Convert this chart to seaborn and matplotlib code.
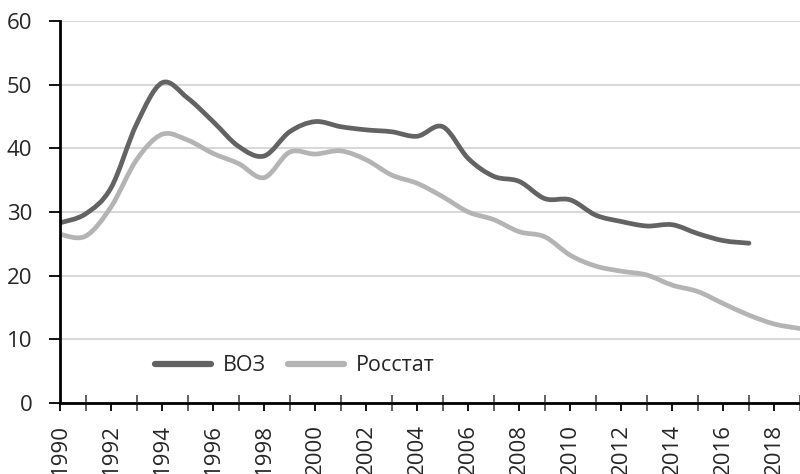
import matplotlib
matplotlib.use("Agg")
import matplotlib.pyplot as plt
import seaborn as sns
import pandas as pd
import numpy as np
from matplotlib.ticker import MultipleLocator
from matplotlib.path import Path
from matplotlib.patches import PathPatch

years_who = list(range(1990, 2018))
who = [28.3, 29.7, 33.8, 43.8, 50.3, 47.9, 44.2, 40.3, 38.8, 42.6, 44.2, 43.4,
       42.9, 42.6, 41.9, 43.4, 38.4, 35.6, 34.8, 32.1, 31.9, 29.5, 28.5, 27.8,
       28.0, 26.6, 25.5, 25.1]
years_rs = list(range(1990, 2020))
rosstat = [26.5, 26.2, 30.8, 38.2, 42.2, 41.3, 39.2, 37.6, 35.4, 39.4, 39.1, 39.6,
           38.2, 35.8, 34.5, 32.4, 30.0, 28.8, 26.9, 26.1, 23.2, 21.5, 20.7, 20.1,
           18.5, 17.5, 15.6, 13.8, 12.4, 11.7]
label_who = "ВОЗ"
label_rs = "Росстат"

df = pd.concat([
    pd.DataFrame({"year": years_who, "value": who, "series": label_who}),
    pd.DataFrame({"year": years_rs, "value": rosstat, "series": label_rs}),
])

sns.set_theme(style="white")
plt.rcParams["font.family"] = ["Open Sans", "DejaVu Sans"]

fig = plt.figure(figsize=(8, 4.74), dpi=100)
ax = fig.add_axes([60/800, 1-403/474, 740/800, 382/474])

sns.lineplot(data=df, x="year", y="value", hue="series",
             palette={label_who: "#636363", label_rs: "#b4b4b4"},
             linewidth=3.4, ax=ax, legend=True)


def smooth_path(xy):
    # Excel-style smoothed line: Catmull-Rom segments as cubic Beziers
    p = np.asarray(xy, dtype=float)
    n = len(p)
    verts = [p[0]]
    codes = [Path.MOVETO]
    for i in range(n - 1):
        p0 = p[i - 1] if i > 0 else p[i]
        p3 = p[i + 2] if i + 2 < n else p[i + 1]
        c1 = p[i] + (p[i + 1] - p0) / 6.0
        c2 = p[i + 1] - (p3 - p[i]) / 6.0
        verts += [c1, c2, p[i + 1]]
        codes += [Path.CURVE4] * 3
    return Path(verts, codes)


for l in list(ax.get_lines()):
    xy = l.get_xydata()
    if len(xy) < 3:
        continue
    patch = PathPatch(smooth_path(xy), fill=False, edgecolor=l.get_color(),
                      linewidth=l.get_linewidth(), capstyle="round",
                      joinstyle="round", zorder=l.get_zorder())
    ax.add_patch(patch)
    l.set_visible(False)

ax.set_xlim(1990, 2019)
ax.set_ylim(0, 60)
ax.set_xlabel("")
ax.set_ylabel("")
ax.set_yticks(range(0, 61, 10))
ax.set_xticks(range(1990, 2019, 2))
ax.xaxis.set_minor_locator(MultipleLocator(1))
ax.yaxis.grid(True, color="#d9d9d9", linewidth=1.5)
ax.set_axisbelow(True)
ax.tick_params(axis="x", which="major", direction="out", length=6, width=1.3,
               color="black", labelsize=16, rotation=90, pad=9, bottom=True)
ax.tick_params(axis="x", which="minor", direction="inout", length=12, width=1.3,
               color="#555555", bottom=True)
ax.tick_params(axis="y", which="major", direction="out", length=8, width=1.3,
               color="black", labelsize=16, left=True, pad=12)
for s in ["top", "right"]:
    ax.spines[s].set_visible(False)
for s in ["left", "bottom"]:
    ax.spines[s].set_color("black")
    ax.spines[s].set_linewidth(2)

leg = ax.legend(loc="center left", bbox_to_anchor=(0.128, 0.097), ncol=2,
                frameon=False, fontsize=15.5, handlelength=2.6,
                handletextpad=0.55, columnspacing=1.05, borderpad=0,
                borderaxespad=0)
for h in leg.get_lines():
    h.set_visible(True)
    h.set_linewidth(4.5)
    h.set_solid_capstyle("round")

fig.savefig("out.png", dpi=100)
